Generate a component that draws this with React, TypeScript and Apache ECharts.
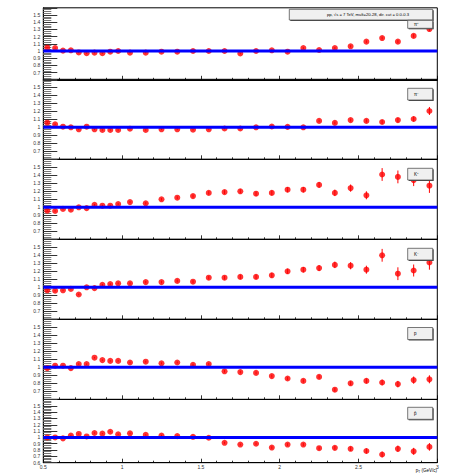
import React, { useEffect, useRef } from "react";
import * as echarts from "echarts";

const pt = [0.525, 0.575, 0.625, 0.675, 0.725, 0.775, 0.825, 0.875, 0.925, 0.975, 1.05, 1.15, 1.25, 1.35, 1.45, 1.55, 1.65, 1.75, 1.85, 1.95, 2.05, 2.15, 2.25, 2.35, 2.45, 2.55, 2.65, 2.75, 2.85, 2.95];

const piPlus = [1.046, 1.04, 1.005, 1.01, 0.98, 0.97, 0.977, 0.97, 0.99, 1.0, 0.977, 0.977, 0.99, 0.99, 1.0, 1.0, 1.0, 0.965, 1.0, 1.01, 0.99, 1.04, 1.014, 1.04, 1.065, 1.13, 1.18, 1.13, 1.21, 1.305];
const piPlusErr = [0.01, 0.01, 0.01, 0.01, 0.01, 0.01, 0.01, 0.01, 0.01, 0.01, 0.01, 0.01, 0.01, 0.01, 0.01, 0.01, 0.01, 0.01, 0.012, 0.012, 0.012, 0.014, 0.014, 0.015, 0.016, 0.018, 0.02, 0.022, 0.025, 0.03];

const piMinus = [1.058, 1.037, 1.008, 1.0, 0.975, 1.008, 0.975, 0.966, 0.966, 0.966, 0.983, 0.966, 0.975, 0.975, 0.97, 0.975, 0.985, 0.985, 1.0, 1.01, 1.005, 1.0, 1.08, 1.055, 1.09, 1.08, 1.066, 1.09, 1.104, 1.204];
const piMinusErr = [0.01, 0.01, 0.01, 0.01, 0.01, 0.01, 0.01, 0.01, 0.01, 0.01, 0.01, 0.01, 0.01, 0.01, 0.01, 0.01, 0.01, 0.012, 0.012, 0.012, 0.014, 0.014, 0.016, 0.016, 0.018, 0.02, 0.024, 0.028, 0.032, 0.05];

const kPlus = [0.958, 0.954, 0.98, 0.97, 1.0, 0.99, 1.03, 1.02, 1.02, 1.04, 1.065, 1.05, 1.1, 1.12, 1.14, 1.18, 1.19, 1.2, 1.17, 1.18, 1.22, 1.22, 1.28, 1.18, 1.24, 1.15, 1.41, 1.38, 1.34, 1.27];
const kPlusErr = [0.01, 0.01, 0.01, 0.01, 0.01, 0.01, 0.012, 0.012, 0.012, 0.012, 0.014, 0.015, 0.016, 0.018, 0.02, 0.022, 0.024, 0.026, 0.028, 0.03, 0.032, 0.034, 0.036, 0.04, 0.045, 0.05, 0.08, 0.08, 0.075, 0.09];

const kMinus = [0.962, 0.958, 0.962, 0.98, 0.91, 1.0, 0.99, 1.03, 1.04, 1.05, 1.05, 1.065, 1.065, 1.08, 1.07, 1.12, 1.12, 1.13, 1.13, 1.15, 1.2, 1.22, 1.24, 1.28, 1.27, 1.22, 1.4, 1.17, 1.21, 1.31];
const kMinusErr = [0.01, 0.01, 0.01, 0.01, 0.01, 0.01, 0.012, 0.012, 0.012, 0.012, 0.014, 0.015, 0.016, 0.018, 0.02, 0.022, 0.024, 0.026, 0.028, 0.03, 0.032, 0.034, 0.036, 0.04, 0.045, 0.05, 0.08, 0.08, 0.075, 0.09];

const proton = [0.99, 1.02, 1.02, 0.99, 1.04, 1.04, 1.12, 1.09, 1.08, 1.08, 1.06, 1.07, 1.05, 1.06, 1.03, 1.04, 0.95, 0.94, 0.93, 0.89, 0.86, 0.83, 0.88, 0.72, 0.8, 0.83, 0.81, 0.79, 0.84, 0.85];
const protonErr = [0.01, 0.01, 0.01, 0.01, 0.01, 0.01, 0.01, 0.01, 0.01, 0.01, 0.012, 0.012, 0.012, 0.012, 0.014, 0.014, 0.016, 0.016, 0.018, 0.018, 0.02, 0.02, 0.022, 0.024, 0.026, 0.03, 0.035, 0.04, 0.045, 0.05];

const antiproton = [1.0, 1.0, 0.985, 1.03, 1.055, 1.016, 1.07, 1.06, 1.09, 1.05, 1.065, 1.04, 1.03, 1.02, 1.01, 0.995, 0.915, 0.887, 0.9, 0.84, 0.887, 0.887, 0.83, 0.835, 0.82, 0.785, 0.73, 0.82, 0.78, 0.85];
const antiprotonErr = [0.01, 0.01, 0.01, 0.01, 0.01, 0.01, 0.01, 0.01, 0.01, 0.01, 0.012, 0.012, 0.012, 0.012, 0.014, 0.014, 0.016, 0.016, 0.018, 0.02, 0.022, 0.024, 0.026, 0.03, 0.034, 0.04, 0.045, 0.05, 0.055, 0.06];

const species = ["π⁺", "π⁻", "K⁺", "K⁻", "p", "p̄"];
const seriesValues = [piPlus, piMinus, kPlus, kMinus, proton, antiproton];
const seriesErrors = [piPlusErr, piMinusErr, kPlusErr, kMinusErr, protonErr, antiprotonErr];
const xTickLabels = ["0.5", "1", "1.5", "2", "2.5", "3"];
const yMin = 0.6;
const yMax = 1.6;
const refLevel = 1;
const titleText = "pp, √s = 7 TeV, mult=20-28, dir. cut = 0.0-0.3";

const FONT = "Liberation Sans, Arial, sans-serif";

export default function App() {
  const ref = useRef<HTMLDivElement>(null);
  useEffect(() => {
    if (!ref.current) return;
    const chart = echarts.init(ref.current, null, { renderer: "svg" });
    const panels = [
      { top: 7.8, height: 72, box: 20.3, boxH: 8 },
      { top: 79.3, height: 80, box: 88.3, boxH: 11.7 },
      { top: 159.3, height: 80, box: 168.3, boxH: 11.7 },
      { top: 239.3, height: 80, box: 248.3, boxH: 11.7 },
      { top: 319.3, height: 80, box: 327.5, boxH: 12 },
      { top: 399.5, height: 63.2, box: 407.3, boxH: 12 },
    ];
    const left = 43.3;
    const width = 394;
    const grids = panels.map((p) => ({
      left,
      top: p.top,
      width,
      height: p.height,
      show: true,
      borderColor: "#000",
      borderWidth: 1,
      backgroundColor: "transparent",
    }));
    const xAxes = panels.map((p, i) => ({
      type: "value",
      gridIndex: i,
      min: 0.5,
      max: 3,
      interval: 0.5,
      axisLine: { show: true, lineStyle: { color: "#000", width: 1 } },
      axisTick: { show: true, inside: true, length: 4, lineStyle: { color: "#000", width: 0.8 } },
      minorTick: { show: true, splitNumber: 5, length: 2, lineStyle: { color: "#000", width: 0.8 } },
      splitLine: { show: false },
      axisLabel: {
        show: i === panels.length - 1,
        fontSize: 5,
        color: "#333",
        fontFamily: FONT,
        margin: 2,
        formatter: (v: number) => {
          const idx = Math.round((v - 0.5) / 0.5);
          return xTickLabels[idx] ?? "";
        },
      },
    }));
    const yAxes = panels.map((p, i) => ({
      type: "value",
      gridIndex: i,
      min: yMin,
      max: yMax,
      interval: 0.1,
      axisLine: { show: true, lineStyle: { color: "#000", width: 1 } },
      axisTick: { show: true, inside: true, length: 14, lineStyle: { color: "#333", width: 1 } },
      minorTick: { show: true, splitNumber: 4, length: 8, lineStyle: { color: "#777", width: 1 } },
      splitLine: { show: false },
      axisLabel: {
        fontSize: 5,
        color: "#333",
        fontFamily: FONT,
        margin: 3,
        formatter: (v: number) => {
          const r = Math.round(v * 10) / 10;
          if (r > 1.55) return "";
          if (r < 0.65 && i !== panels.length - 1) return "";
          return String(r);
        },
      },
    }));
    const series: any[] = [];
    seriesValues.forEach((vals, i) => {
      const data = pt.map((x, k) => [x, vals[k], seriesErrors[i][k]]);
      series.push({
        type: "custom",
        xAxisIndex: i,
        yAxisIndex: i,
        z: 2,
        data,
        encode: { x: 0, y: 1 },
        renderItem: (params: any, api: any) => {
          const x = api.value(0);
          const y = api.value(1);
          const e = api.value(2);
          const p1 = api.coord([x, y - e]);
          const p2 = api.coord([x, y + e]);
          return {
            type: "line",
            shape: { x1: p1[0], y1: p1[1], x2: p2[0], y2: p2[1] },
            style: { stroke: "#ff0000", lineWidth: 1 },
          };
        },
      });
      series.push({
        type: "scatter",
        xAxisIndex: i,
        yAxisIndex: i,
        z: 3,
        symbol: "circle",
        symbolSize: 6,
        itemStyle: { color: "#ff0000" },
        data: pt.map((x, k) => [x, vals[k]]),
      });
      series.push({
        type: "line",
        xAxisIndex: i,
        yAxisIndex: i,
        z: 4,
        symbol: "none",
        lineStyle: { color: "#0000ff", width: 3 },
        data: [
          [0.5, refLevel],
          [3, refLevel],
        ],
      });
    });
    const graphics: any[] = [];
    // title box
    graphics.push({
      type: "rect",
      shape: { x: 290.3, y: 10.3, width: 143.4, height: 10.7 },
      style: { fill: "#444" },
      z: 10,
    });
    graphics.push({
      type: "rect",
      shape: { x: 289.3, y: 9.3, width: 143.4, height: 10.7 },
      style: { fill: "#f0f0f0", stroke: "#555", lineWidth: 0.8 },
      z: 11,
    });
    graphics.push({
      type: "text",
      x: 368,
      y: 14.8,
      z: 12,
      style: { text: titleText, fontSize: 4.2, fill: "#000", fontFamily: FONT, align: "center", verticalAlign: "middle" },
    });
    panels.forEach((p, i) => {
      graphics.push({
        type: "rect",
        shape: { x: 408.7, y: p.box + 1, width: 25, height: p.boxH },
        style: { fill: "#444" },
        z: 10,
      });
      graphics.push({
        type: "rect",
        shape: { x: 407.7, y: p.box, width: 25, height: p.boxH },
        style: { fill: "#f0f0f0", stroke: "#555", lineWidth: 0.8 },
        z: 11,
      });
      graphics.push({
        type: "text",
        x: 414,
        y: p.box + p.boxH / 2,
        z: 12,
        style: { text: species[i], fontSize: 4.5, fill: "#000", fontFamily: FONT, align: "left", verticalAlign: "middle" },
      });
    });
    graphics.push({
      type: "text",
      x: 437,
      y: 470.5,
      z: 12,
      style: {
        text: "{a|p}{b|T}{a| (GeV/c)}",
        align: "right",
        verticalAlign: "middle",
        rich: {
          a: { fontSize: 4.5, fill: "#000", fontFamily: FONT },
          b: { fontSize: 3.2, fill: "#000", fontFamily: FONT, padding: [3, 0, 0, 0] },
        },
      },
    });
    chart.setOption({
      animation: false,
      backgroundColor: "#fff",
      grid: grids,
      xAxis: xAxes,
      yAxis: yAxes,
      series,
      graphic: graphics,
    });
    return () => chart.dispose();
  }, []);
  return (
    <div
      ref={ref}
      style={{ position: "absolute", left: 0, top: 0, width: 449, height: 475, background: "#fff" }}
    />
  );
}
